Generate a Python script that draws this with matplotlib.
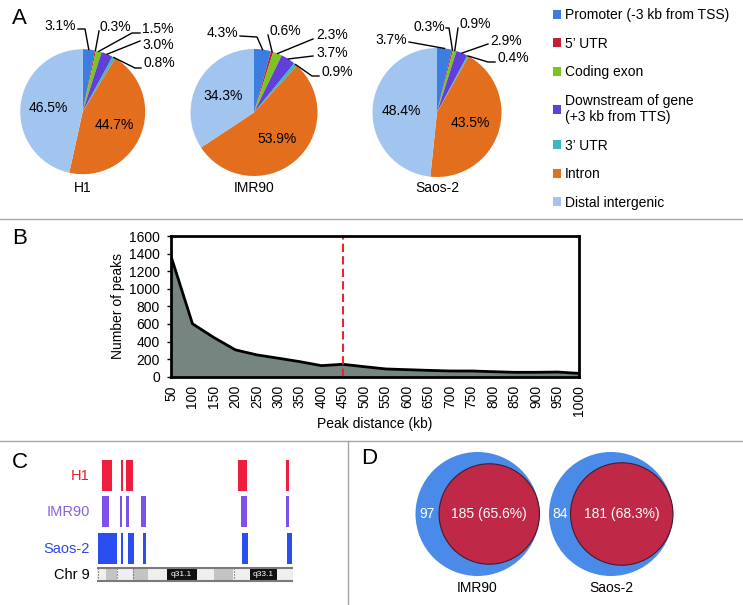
import numpy as np
import matplotlib.pyplot as plt
from matplotlib.patches import Circle

plt.rcParams['font.family'] = ['Liberation Sans', 'DejaVu Sans']
plt.rcParams['font.size'] = 10

W, H = 743, 605

# ---- panel A: genomic distribution of peaks (%)
categories = ['Promoter (-3 kb from TSS)', '5’ UTR', 'Coding exon',
              'Downstream of gene\n(+3 kb from TTS)', '3’ UTR', 'Intron',
              'Distal intergenic']
cat_colors = ['#3b7de0', '#c02038', '#7cc420', '#6040d8', '#3cb8c0',
              '#e26e1e', '#a2c5f0']
cell_lines = ['H1', 'IMR90', 'Saos-2']
pct_h1 = [3.1, 0.3, 1.5, 3.0, 0.8, 44.7, 46.5]
pct_imr90 = [4.3, 0.6, 2.3, 3.7, 0.9, 53.9, 34.3]
pct_saos2 = [3.7, 0.3, 0.9, 2.9, 0.4, 43.5, 48.4]
pie_values = [pct_h1, pct_imr90, pct_saos2]

# ---- panel B: peak distance histogram
peak_distance = [50, 100, 150, 200, 250, 300, 350, 400, 450, 500,
                 550, 600, 650, 700, 750, 800, 850, 900, 950, 1000]
peak_counts = [1371, 602, 445, 305, 248, 210, 171, 126, 141, 114,
               88, 80, 72, 65, 65, 57, 50, 50, 53, 38]
cutoff = 450

# ---- panel C: peaks along chr9 region (start, width)
track_names = ['H1', 'IMR90', 'Saos-2']
track_colors = ['#ee1d3e', '#7d52e6', '#2b4ef0']
label_colors = ['#e0202a', '#8a60e0', '#3048e0']
peaks_h1 = [(5.3, 10), (24, 2), (29, 7.6), (141.3, 9), (189.3, 3)]
peaks_imr90 = [(5.3, 7), (23.3, 2), (29.3, 3), (44, 5.3), (144.3, 5.7), (189, 3)]
peaks_saos2 = [(1.3, 19), (24, 2.6), (31, 6.3), (46, 3), (145.6, 6), (190.6, 4.7)]
track_peaks = [peaks_h1, peaks_imr90, peaks_saos2]
band_edges = [0, 9.3, 20, 36.6, 51.6, 70, 100, 117.3, 136.6, 153.3, 180, 196]
band_stain = ['gneg', 'gpos50', 'gneg', 'gpos50', 'gneg', 'gpos100',
              'gneg', 'gpos50', 'gneg', 'gpos100', 'gneg']
band_names = ['', '', '', '', '', 'q31.1', '', '', '', 'q33.1', '']
band_dots = [1.6, 20.3, 36.2, 137.3]

# ---- panel D: overlap
venn_names = ['IMR90', 'Saos-2']
only_counts = [97, 84]
shared_counts = [185, 181]
shared_pct = [65.6, 68.3]

fig = plt.figure(figsize=(W / 100, H / 100), dpi=100)


def box(x0, y0, x1, y1):
    return [x0 / W, 1 - y1 / H, (x1 - x0) / W, (y1 - y0) / H]


ov = fig.add_axes([0, 0, 1, 1], zorder=5)
ov.set_xlim(0, W)
ov.set_ylim(H, 0)
ov.axis('off')

# separators
sep = '#a8a8a8'
ov.plot([0, W], [219.3, 219.3], color=sep, lw=1)
ov.plot([0, W], [440.7, 440.7], color=sep, lw=1)
ov.plot([348.3, 348.3], [440.7, H], color=sep, lw=1)

for letter, (x, y) in zip('ABCD', [(12, 19), (12, 238), (12, 462), (361, 459)]):
    ov.text(x, y, letter, fontsize=16, ha='left', va='center')

# ---- A
pie_centers = [(82.7, 111.7), (254, 112.5), (437, 112.5)]
pie_radii = [62.5, 63.5, 64.5]
small_layout = [
    [((76, 26), 'right', [(78, 29), (85, 29)]),
     ((100, 27), 'left', [(99, 31)]),
     ((142, 29), 'left', [(140, 33), (132, 33)]),
     ((142, 45), 'left', [(140, 41)]),
     ((144, 63), 'left', [(141, 68), (135, 68)])],
    [((238, 33), 'right', [(240, 36), (257, 37)]),
     ((270, 31), 'left', [(268, 35)]),
     ((316, 35), 'left', [(313, 39)]),
     ((316, 53), 'left', [(313, 56)]),
     ((322, 72), 'left', [(319, 76), (312, 76)])],
    [((407, 40), 'right', [(409, 42)]),
     ((445, 27), 'right', [(446, 28), (449, 28)]),
     ((460, 24), 'left', [(458, 28)]),
     ((490, 41), 'left', [(488, 44)]),
     ((497, 58), 'left', [(495, 62), (488, 62)])],
]

legend_handles = None
for k, (vals, (cx, cy), r) in enumerate(zip(pie_values, pie_centers, pie_radii)):
    ax = fig.add_axes(box(cx - r, cy - r, cx + r, cy + r))
    wedges, _ = ax.pie(vals, colors=cat_colors, startangle=90, counterclock=False,
                       radius=1, wedgeprops=dict(linewidth=0))
    ax.set_xlim(-1, 1)
    ax.set_ylim(-1, 1)
    if legend_handles is None:
        legend_handles = wedges
    for i, w in enumerate(wedges):
        mid = np.deg2rad((w.theta1 + w.theta2) / 2)
        if i >= 5:
            ax.text(0.55 * np.cos(mid), 0.55 * np.sin(mid), f'{vals[i]:.1f}%',
                    ha='center', va='center')
        else:
            (tx, ty), ha, pts = small_layout[k][i]
            ex, ey = cx + r * np.cos(mid), cy - r * np.sin(mid)
            xs = [p[0] for p in pts] + [ex]
            ys = [p[1] for p in pts] + [ey]
            ov.plot(xs, ys, color='black', lw=1)
            ov.text(tx, ty, f'{vals[i]:.1f}%', ha=ha, va='center')
    ov.text(cx, 188, cell_lines[k], ha='center', va='center')

fig.legend(legend_handles, categories, loc='upper left',
           bbox_to_anchor=(553 / W, 1 - 8 / H), frameon=False,
           handlelength=0.6, handleheight=0.6, handletextpad=0.25,
           labelspacing=1.05, borderaxespad=0, borderpad=0)

# ---- B
axB = fig.add_axes(box(171, 236, 579, 376.7))
axB.fill_between(peak_distance, peak_counts, color='#76857f', lw=0)
axB.plot(peak_distance, peak_counts, color='black', lw=2)
axB.axvline(cutoff, color='#e8262a', ls=(0, (4, 2)), lw=1.5)
axB.set_xlim(50, 1000)
axB.set_ylim(0, 1600)
axB.set_xticks(peak_distance)
axB.set_xticklabels([str(v) for v in peak_distance], rotation=90)
axB.set_yticks(range(0, 1601, 200))
for s in axB.spines.values():
    s.set_linewidth(2)
axB.tick_params(axis='y', length=3, width=1, pad=5)
axB.tick_params(axis='x', length=0, pad=6)
axB.set_ylabel('Number of peaks', labelpad=3)
axB.set_xlabel('Peak distance (kb)', labelpad=1)

# ---- C
axC = fig.add_axes(box(96.7, 455, 292.7, 590))
axC.set_xlim(0, 196)
axC.set_ylim(590, 455)
axC.axis('off')
row_tops = [460, 496, 533]
for j, (peaks, col) in enumerate(zip(track_peaks, track_colors)):
    axC.broken_barh(peaks, (row_tops[j], 31), facecolors=col)
    ov.text(90, row_tops[j] + 16, track_names[j], color=label_colors[j],
            ha='right', va='center', fontsize=10.5)
stain_col = {'gneg': '#efefef', 'gpos50': '#c4c4c4', 'gpos100': '#111111'}
ideo_top, ideo_h = 567.5, 13.5
for b0, b1, st, nm in zip(band_edges[:-1], band_edges[1:], band_stain, band_names):
    axC.broken_barh([(b0, b1 - b0)], (ideo_top, ideo_h), facecolors=stain_col[st])
    if nm:
        axC.text((b0 + b1) / 2, ideo_top + ideo_h / 2, nm, color='white',
                 fontsize=6, ha='center', va='center')
for d in band_dots:
    axC.plot([d, d], [ideo_top, ideo_top + ideo_h], color='#555555', lw=0.8, ls=':')
axC.plot([0, 196], [ideo_top, ideo_top], color='#7a7a7a', lw=1.5)
axC.plot([0, 196], [ideo_top + ideo_h, ideo_top + ideo_h], color='#7a7a7a', lw=1.5)
ov.text(90, 575, 'Chr 9', ha='right', va='center', fontsize=10.5)

# ---- D
venn_centers = [(477.5, 514), (611, 514)]
R = 62
for (cx, cy), name, n_only, n_sh, pct in zip(venn_centers, venn_names, only_counts,
                                             shared_counts, shared_pct):
    r = R * np.sqrt(n_sh / (n_sh + n_only))
    rcx = cx + (R - r)
    ov.add_patch(Circle((cx, cy), R, facecolor='#4a8ae8', edgecolor='none'))
    ov.add_patch(Circle((rcx, cy), r, facecolor='#c02848', edgecolor='#4a1a28', lw=0.8))
    ov.text(((cx - R) + (rcx - r)) / 2, cy, str(n_only), color='white',
            ha='center', va='center')
    ov.text(rcx, cy, f'{n_sh} ({pct:.1f}%)', color='white', ha='center', va='center')
    ov.text(cx, 588, name, ha='center', va='center')

fig.savefig('out.png', dpi=100)
